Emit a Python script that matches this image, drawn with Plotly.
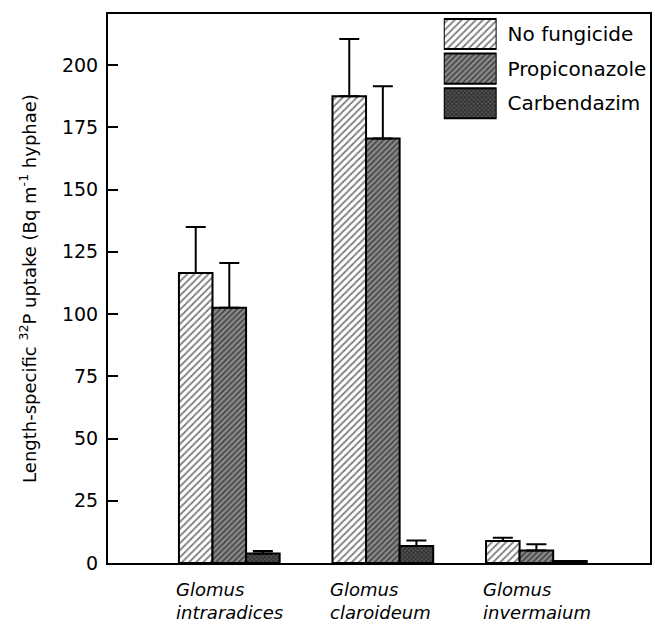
import plotly.graph_objects as go

categories = ["Glomus intraradices", "Glomus claroideum", "Glomus invermaium"]
cat_lines = [("Glomus", "intraradices"), ("Glomus", "claroideum"), ("Glomus", "invermaium")]
series_names = ["No fungicide", "Propiconazole", "Carbendazim"]
no_fungicide = [116.5, 187.5, 8.8]
no_fungicide_err = [18.5, 23.0, 1.3]
propiconazole = [102.5, 170.5, 5.0]
propiconazole_err = [18.0, 21.0, 2.5]
carbendazim = [3.8, 6.8, 0.8]
carbendazim_err = [1.0, 2.2, 0.0]
y_ticks = [0, 25, 50, 75, 100, 125, 150, 175, 200]

values = [no_fungicide, propiconazole, carbendazim]
errors = [no_fungicide_err, propiconazole_err, carbendazim_err]
patterns = [
    dict(shape="/", size=5, solidity=0.35, fgcolor="black", bgcolor="white"),
    dict(shape="/", size=4, solidity=0.45, fgcolor="black", bgcolor="#8c8c8c"),
    dict(shape="x", size=3, solidity=0.5, fgcolor="black", bgcolor="#555555"),
]

FONT = "DejaVu Sans, Liberation Sans, Arial, sans-serif"

fig = go.Figure()
for name, v, e, p in zip(series_names, values, errors, patterns):
    fig.add_trace(go.Bar(
        x=categories, y=v, name=name, showlegend=False,
        marker=dict(color="white", pattern=p, line=dict(color="black", width=2)),
        error_y=dict(type="data", array=e, arrayminus=[0] * len(e), symmetric=False,
                     color="black", thickness=2, width=10),
    ))

# legend drawn as patterned swatches on an inset axis
fig.add_trace(go.Bar(
    y=series_names, x=[1] * len(series_names), orientation="h",
    xaxis="x2", yaxis="y2", width=[0.87] * len(series_names), showlegend=False,
    hoverinfo="skip",
    marker=dict(color="white", line=dict(color="black", width=2),
                pattern=dict(shape=[p["shape"] for p in patterns],
                             size=[p["size"] for p in patterns],
                             solidity=[p["solidity"] for p in patterns],
                             fgcolor=[p["fgcolor"] for p in patterns],
                             bgcolor=[p["bgcolor"] for p in patterns])),
))

for cat, (l1, l2) in zip(categories, cat_lines):
    fig.add_annotation(x=cat, y=0, xref="x", yref="y", yshift=-14, xshift=-55,
                       xanchor="left", yanchor="top", align="left", showarrow=False,
                       text=f"<i>{l1}<br>{l2}</i>",
                       font=dict(family=FONT, size=18, color="black"))

fig.update_layout(
    width=655, height=626, autosize=False,
    margin=dict(l=108, r=3, t=14, b=63),
    paper_bgcolor="white", plot_bgcolor="white",
    barmode="group", bargap=0.344, bargroupgap=0,
    font=dict(family=FONT, size=18, color="black"),
    showlegend=False,
    xaxis=dict(range=[-0.79, 2.74], showticklabels=False, ticks="",
               showline=True, linecolor="black", linewidth=2, mirror=True,
               showgrid=False, zeroline=False),
    yaxis=dict(range=[0, 220.5], tickvals=y_ticks, ticks="inside", ticklen=10,
               tickwidth=2, tickcolor="black", showline=True, linecolor="black",
               linewidth=2, mirror=True, showgrid=False, zeroline=False,
               ticklabelstandoff=4,
               tickfont=dict(family=FONT, size=19, color="black"),
               title=dict(text="Length-specific <sup>32</sup>P uptake (Bq m<sup>-1</sup> hyphae)",
                          font=dict(family=FONT, size=18, color="black"), standoff=21)),
    xaxis2=dict(domain=[0.6195, 0.717], anchor="y2", range=[0, 1], visible=False,
                fixedrange=True),
    yaxis2=dict(domain=[0.806, 0.995], anchor="x2", side="right", autorange="reversed",
                showline=False, ticks="", showgrid=False, zeroline=False,
                ticklabelstandoff=10, fixedrange=True,
                tickfont=dict(family=FONT, size=20, color="black")),
)

fig.write_html("out.html",
               config={"displayModeBar": False, "responsive": False},
               post_script="document.body.style.margin='0';document.body.style.overflow='hidden';")
